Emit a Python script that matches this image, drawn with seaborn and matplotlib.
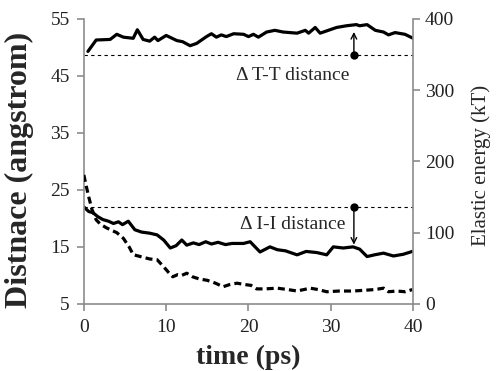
import numpy as np
import pandas as pd
import matplotlib
matplotlib.use("Agg")
import matplotlib.pyplot as plt
import seaborn as sns

# T-T distance (left axis, angstrom)
tt_time = [0.5, 1.5, 3.2, 4.0, 4.8, 6.0, 6.5, 7.2, 8.0, 8.6, 9.0, 10.0, 11.3, 12.0, 12.9,
           13.7, 14.9, 15.5, 16.1, 16.7, 17.3, 18.2, 19.4, 20.0, 20.6, 21.2, 22.2, 23.2,
           24.2, 25.9, 26.9, 27.3, 28.1, 28.7, 29.7, 30.7, 31.9, 33.1, 33.5, 34.4, 35.4,
           36.4, 37.0, 37.8, 39.0, 40.0]
tt_dist = [49.3, 51.3, 51.4, 52.3, 51.8, 51.6, 53.1, 51.4, 51.1, 51.8, 51.2, 52.1, 51.2, 51.0,
           50.3, 50.7, 51.9, 52.4, 51.8, 52.2, 51.9, 52.4, 52.3, 51.9, 52.3, 51.8, 52.7, 53.0,
           52.7, 52.5, 53.0, 52.5, 53.5, 52.5, 53.0, 53.5, 53.8, 54.0, 53.8, 54.0, 53.0,
           52.7, 52.2, 52.6, 52.3, 51.6]

# I-I distance (left axis, angstrom)
ii_time = [0.0, 0.6, 1.1, 1.7, 2.3, 3.0, 3.6, 4.2, 4.7, 5.4, 6.2, 7.0, 8.0, 8.9, 9.7, 10.5,
           11.2, 11.9, 12.5, 13.3, 14.0, 14.8, 15.5, 16.3, 17.2, 18.0, 19.4, 20.2, 21.4,
           22.6, 23.5, 24.5, 25.9, 27.0, 28.3, 29.5, 30.3, 31.5, 32.7, 33.5, 34.4, 35.3,
           36.4, 37.6, 38.8, 39.9]
ii_dist = [22.0, 21.2, 21.0, 20.3, 19.8, 19.5, 19.1, 19.4, 18.9, 19.5, 18.0, 17.6, 17.4, 17.1,
           16.2, 14.8, 15.2, 16.2, 15.3, 15.7, 15.4, 15.9, 15.5, 15.8, 15.4, 15.6, 15.6, 15.9,
           14.1, 15.0, 14.5, 14.3, 13.6, 14.2, 14.0, 13.6, 15.0, 14.8, 15.0, 14.6, 13.3, 13.6,
           13.9, 13.4, 13.7, 14.2]

# elastic energy (right axis, kT)
el_time = [0.0, 0.3, 0.6, 1.0, 1.5, 2.0, 2.7, 3.4, 4.0, 4.8, 5.5, 6.0, 7.0, 8.0, 8.9, 9.7,
           10.3, 10.8, 11.4, 11.9, 12.5, 13.2, 14.0, 15.0, 16.0, 16.9, 17.7, 18.6, 19.6,
           20.3, 21.0, 22.0, 23.5, 24.8, 25.9, 26.7, 27.5, 28.5, 29.5, 31.0, 32.7, 34.0,
           35.3, 36.4, 37.0, 38.0, 39.0, 39.9]
el_energy = [181, 165, 150, 132, 118, 112, 107, 103, 100, 92, 80, 69, 66, 63, 62, 52,
             44, 38, 41, 40, 43, 38, 35, 33, 29, 24, 27, 29, 27, 26, 21, 21, 22, 20, 18, 20,
             22, 20, 17, 18, 18, 19, 20, 22, 17, 18, 17, 20]

tt_ref = 48.7
ii_ref = 22.0
arrow_t = 32.8

sns.set_style("ticks")
plt.rcParams["font.family"] = ["Liberation Serif", "DejaVu Serif"]

fig = plt.figure(figsize=(4.96, 3.71), dpi=100)
ax = fig.add_axes([0.169, 0.181, 0.664, 0.768])
ax2 = ax.twinx()

df_tt = pd.DataFrame({"time": tt_time, "dist": tt_dist})
df_ii = pd.DataFrame({"time": ii_time, "dist": ii_dist})
df_el = pd.DataFrame({"time": el_time, "energy": el_energy})

sns.lineplot(data=df_tt, x="time", y="dist", ax=ax, color="black", lw=2.3)
sns.lineplot(data=df_ii, x="time", y="dist", ax=ax, color="black", lw=2.3)
sns.lineplot(data=df_el, x="time", y="energy", ax=ax2, color="black", lw=2.3,
             dashes=False, linestyle=(0, (2.2, 1.3)))

# reference lines
ax.plot([0, 40], [tt_ref, tt_ref], color="black", lw=0.8, ls=(0, (3, 3)))
ax.plot([0, 40], [ii_ref, ii_ref], color="black", lw=0.8, ls=(0, (3, 3)))

# arrows and dots
ax.plot([arrow_t], [tt_ref], "o", color="black", ms=5)
ax.annotate("", xy=(arrow_t, 53.2), xytext=(arrow_t, tt_ref),
            arrowprops=dict(arrowstyle="->", color="black", lw=1))
ax.plot([arrow_t], [ii_ref], "o", color="black", ms=5)
ax.annotate("", xy=(arrow_t, 14.9), xytext=(arrow_t, ii_ref),
            arrowprops=dict(arrowstyle="->", color="black", lw=1))

ax.text(25.4, 45.0, "Δ T-T distance", fontsize=14, ha="center", va="center")
ax.text(25.4, 18.9, "Δ I-I distance", fontsize=14, ha="center", va="center")

ax.set_xlim(0, 40)
ax.set_ylim(5, 55)
ax2.set_ylim(0, 400)
ax.set_xticks([0, 10, 20, 30, 40])
ax.set_yticks([5, 15, 25, 35, 45, 55])
ax2.set_yticks([0, 100, 200, 300, 400])

ax.set_xlabel("time (ps)", fontsize=20, fontweight="bold", labelpad=6)
ax.set_ylabel("Distnace (angstrom)", fontsize=23, fontweight="bold")
ax.yaxis.set_label_coords(-0.152, 0.47)
ax2.set_ylabel("Elastic energy (kT)", fontsize=15)
ax2.yaxis.set_label_coords(1.175, 0.485)

gray = "#8c8c8c"
for a in (ax, ax2):
    for s in a.spines.values():
        s.set_color(gray)
        s.set_linewidth(1.2)
    a.spines["top"].set_visible(False)
    a.tick_params(colors=gray, labelcolor="#222222", labelsize=14, length=5, width=1.2)
ax.tick_params(axis="y", pad=5)
ax.tick_params(axis="x", pad=6)
ax.spines["right"].set_visible(False)
ax2.spines["left"].set_visible(False)
ax2.spines["bottom"].set_visible(False)

fig.savefig("out.png", dpi=100)
